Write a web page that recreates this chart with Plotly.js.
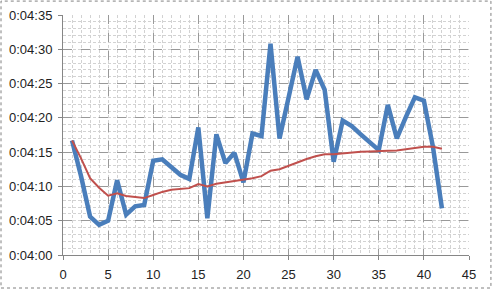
<!DOCTYPE html>
<html>
<head>
<meta charset="utf-8">
<script src="https://cdn.plot.ly/plotly-3.0.1.min.js"></script>
<style>html,body{margin:0;padding:0;background:#fff;}#chart{width:492px;height:290px;}</style>
</head>
<body>
<div id="chart"></div>
<script>
// x positions (run number)
const runs = [1,2,3,4,5,6,7,8,9,10,11,12,13,14,15,16,17,18,19,20,21,22,23,24,25,26,27,28,29,30,31,32,33,34,35,36,37,38,39,40,41,42];
// seconds after 0:04:00 – individual times (blue)
const times = [16.7,11.5,5.6,4.4,5.0,10.9,5.9,7.1,7.3,13.75,13.95,12.8,11.7,11.1,18.6,5.35,17.6,13.4,14.9,10.6,17.7,17.35,30.8,17.0,23.3,28.9,22.7,27.0,24.1,13.6,19.6,18.8,17.6,16.4,15.3,21.9,17.0,20.1,23.0,22.5,15.8,6.8];
// seconds after 0:04:00 – running average (red)
const average = [16.7,14.1,11.2,9.8,8.65,9.0,8.6,8.4,8.3,8.75,9.2,9.5,9.65,9.75,10.35,10.0,10.4,10.6,10.8,10.9,11.2,11.5,12.3,12.5,13.0,13.6,14.0,14.4,14.7,14.7,14.85,15.0,15.05,15.1,15.1,15.2,15.25,15.4,15.6,15.8,15.8,15.5];
// y tick values (seconds after 0:04:00) and labels
const yTickVals = [0,5,10,15,20,25,30,35];
const yTickText = ["0:04:00","0:04:05","0:04:10","0:04:15","0:04:20","0:04:25","0:04:30","0:04:35"];
const xTickVals = [0,5,10,15,20,25,30,35,40,45];

const traces = [
  {x: runs, y: times, type: 'scatter', mode: 'lines',
   line: {color: '#4A7EBB', width: 4.5}, hoverinfo: 'skip'},
  {x: runs, y: average, type: 'scatter', mode: 'lines',
   line: {color: '#C0504D', width: 2}, hoverinfo: 'skip'}
];

const gridMajor = '#999999';
const gridMinor = '#d2d2d2';

const axisCommon = {
  showline: true, linecolor: '#868686', linewidth: 1,
  ticks: 'outside', ticklen: 4, tickcolor: '#868686',
  showgrid: true, gridcolor: gridMajor, griddash: 'dash', gridwidth: 1,
  minor: {dtick: 1, showgrid: true, gridcolor: gridMinor, griddash: '3px,2px', gridwidth: 1},
  zeroline: false, fixedrange: true, ticklabelstandoff: 3
};

const layout = {
  width: 492, height: 290,
  margin: {l: 63, r: 23, t: 15, b: 35, pad: 0},
  paper_bgcolor: '#ffffff', plot_bgcolor: '#ffffff',
  showlegend: false,
  font: {family: 'Liberation Sans, Arial, sans-serif', size: 13, color: '#222'},
  xaxis: Object.assign({range: [0, 45], tickvals: xTickVals, ticktext: xTickVals.map(String)}, axisCommon),
  yaxis: Object.assign({range: [0, 35], tickvals: yTickVals, ticktext: yTickText}, axisCommon),
  shapes: [
    {type: 'rect', xref: 'paper', yref: 'paper',
     x0: -0.1527, x1: 1.054, y0: -0.1375, y1: 1.058,
     line: {color: '#808080', width: 1, dash: 'dot'}, fillcolor: 'rgba(0,0,0,0)', layer: 'below'}
  ]
};

Plotly.newPlot('chart', traces, layout, {staticPlot: true, displayModeBar: false});
</script>
</body>
</html>
